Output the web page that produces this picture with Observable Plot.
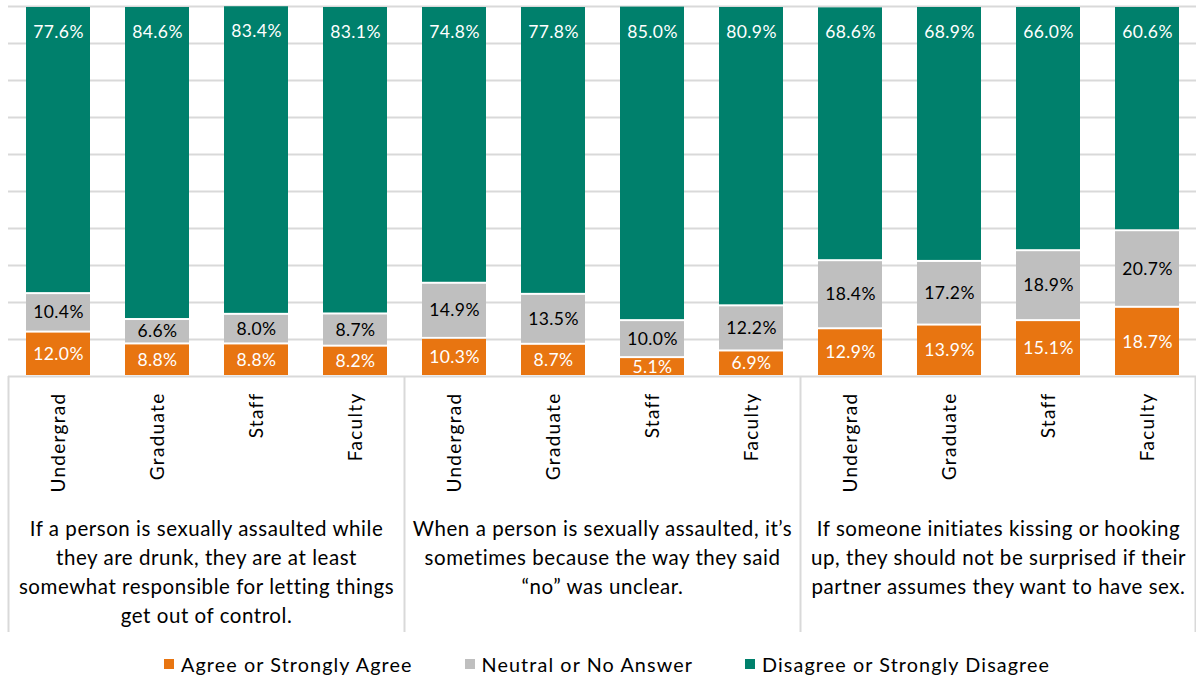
<!DOCTYPE html>
<html>
<head>
<meta charset="utf-8">
<script src="https://cdn.jsdelivr.net/npm/d3@7"></script>
<script src="https://cdn.jsdelivr.net/npm/@observablehq/plot@0.6"></script>
<style>
  html, body { margin: 0; padding: 0; background: #fff; }
  body { font-family: Lato, "Open Sans", sans-serif; width: 1196px; height: 683px; overflow: hidden; }
  #legend { display: flex; justify-content: center; align-items: center; height: 38px; padding-left: 18px; box-sizing: border-box;
            font-family: Lato, sans-serif; font-size: 19.8px; color: #000; letter-spacing: 1.1px; }
  #legend .item { display: flex; align-items: center; margin: 0 26px; }
  #legend .sw { width: 10px; height: 10px; margin-right: 7px; }
</style>
</head>
<body>
<div id="chart"></div>
<div id="legend"></div>
<script>
// ---- data ----
const questions = [
  "If a person is sexually assaulted while\nthey are drunk, they are at least\nsomewhat responsible for letting things\nget out of control.",
  "When a person is sexually assaulted, it’s\nsometimes because the way they said\n“no” was unclear.",
  "If someone initiates kissing or hooking\nup, they should not be surprised if their\npartner assumes they want to have sex."
];
const roles = ["Undergrad", "Graduate", "Staff", "Faculty"];
const responses = ["Agree or Strongly Agree", "Neutral or No Answer", "Disagree or Strongly Disagree"];
const colors = ["#e87511", "#bfbfbf", "#00806c"];
const agree    = [12.0, 8.8, 8.8, 8.2,  10.3, 8.7, 5.1, 6.9,  12.9, 13.9, 15.1, 18.7];
const neutral  = [10.4, 6.6, 8.0, 8.7,  14.9, 13.5, 10.0, 12.2,  18.4, 17.2, 18.9, 20.7];
const disagree = [77.6, 84.6, 83.4, 83.1,  74.8, 77.8, 85.0, 80.9,  68.6, 68.9, 66.0, 60.6];
const yTicks = [0, 10, 20, 30, 40, 50, 60, 70, 80, 90, 100];

// ---- build table ----
const keys = [];
const bars = [];
questions.forEach((q, qi) => roles.forEach((r, ri) => {
  const i = qi * roles.length + ri;
  const key = qi + "|" + r;
  keys.push(key);
  bars.push({key, qi, role: r, agree: agree[i], neutral: neutral[i], disagree: disagree[i]});
}));
const rows = [];
for (const b of bars) {
  rows.push({key: b.key, response: responses[0], value: b.agree});
  rows.push({key: b.key, response: responses[1], value: b.neutral});
  rows.push({key: b.key, response: responses[2], value: b.disagree});
}
const fmt = v => v.toFixed(1) + "%";
const FONT = "Lato, sans-serif";

// custom mark: group separators + group titles, positioned from the x & y scales
function groups(index, scales, values, dimensions) {
  const x = scales.x, y = scales.y;
  const step = x.step(), bw = x.bandwidth();
  const half = (step - bw) / 2;
  const base = y(0);
  const sepEnd = dimensions.height - 13;
  const g = d3.create("svg:g");
  questions.forEach((q, qi) => {
    const k0 = keys[qi * roles.length], k1 = keys[qi * roles.length + roles.length - 1];
    const left = x(k0) - half, right = x(k1) + bw + half;
    g.append("line").attr("x1", left).attr("x2", left).attr("y1", base).attr("y2", sepEnd)
      .attr("stroke", "#d9d9d9").attr("stroke-width", 2);
    if (qi === questions.length - 1)
      g.append("line").attr("x1", right - 1).attr("x2", right - 1).attr("y1", base).attr("y2", sepEnd)
        .attr("stroke", "#d9d9d9").attr("stroke-width", 2);
    const t = g.append("text").attr("text-anchor", "middle").attr("font-family", FONT)
      .attr("font-size", 20.5).attr("letter-spacing", "0.55px").attr("fill", "#000");
    q.split("\n").forEach((line, li) => {
      t.append("tspan").attr("x", (left + right) / 2).attr("y", base + 152 + li * 29)
        .attr("dominant-baseline", "central").text(line);
    });
  });
  return g.node();
}

const labelOpts = (ri, fill) => Plot.stackY({
  x: "key", y: "value",
  text: d => d.response === responses[ri] ? fmt(d.value) : null,
  fill, fontSize: 17.5
});

const plot = Plot.plot({
  width: 1196,
  height: 645,
  marginTop: 6,
  marginBottom: 269,
  marginLeft: 8,
  marginRight: 0,
  style: {fontFamily: FONT, background: "#fff"},
  x: {domain: keys, paddingInner: 0.354, paddingOuter: 0.177, axis: null},
  y: {domain: [0, 100], axis: null},
  color: {domain: responses, range: colors},
  marks: [
    Plot.ruleY(yTicks, {stroke: "#d9d9d9", strokeWidth: 2}),
    Plot.barY(rows, {x: "key", y: "value", fill: "response", insetTop: 1, insetBottom: 1}),
    Plot.text(rows, labelOpts(0, "#fff")),
    Plot.text(rows, labelOpts(1, "#000")),
    Plot.text(bars, {x: "key", y: d => d.agree + d.neutral + d.disagree, dy: 26,
      text: d => fmt(d.disagree), fill: "#fff", fontSize: 17.5}),
    Plot.axisX({anchor: "bottom", tickFormat: k => k.split("|")[1], tickRotate: -90, tickSize: 0,
      tickPadding: 16, fontSize: 19, fill: "#000", label: null}),
    groups
  ]
});
document.getElementById("chart").appendChild(plot);
d3.select(plot).selectAll('[aria-label="x-axis tick label"] text').style("letter-spacing", "1.3px");
d3.select(plot).selectAll('[aria-label="text"] text').style("letter-spacing", "0.4px");

// legend
const leg = d3.select("#legend");
responses.forEach((r, i) => {
  const it = leg.append("div").attr("class", "item");
  it.append("div").attr("class", "sw").style("background", colors[i]);
  it.append("span").text(r);
});
</script>
</body>
</html>
